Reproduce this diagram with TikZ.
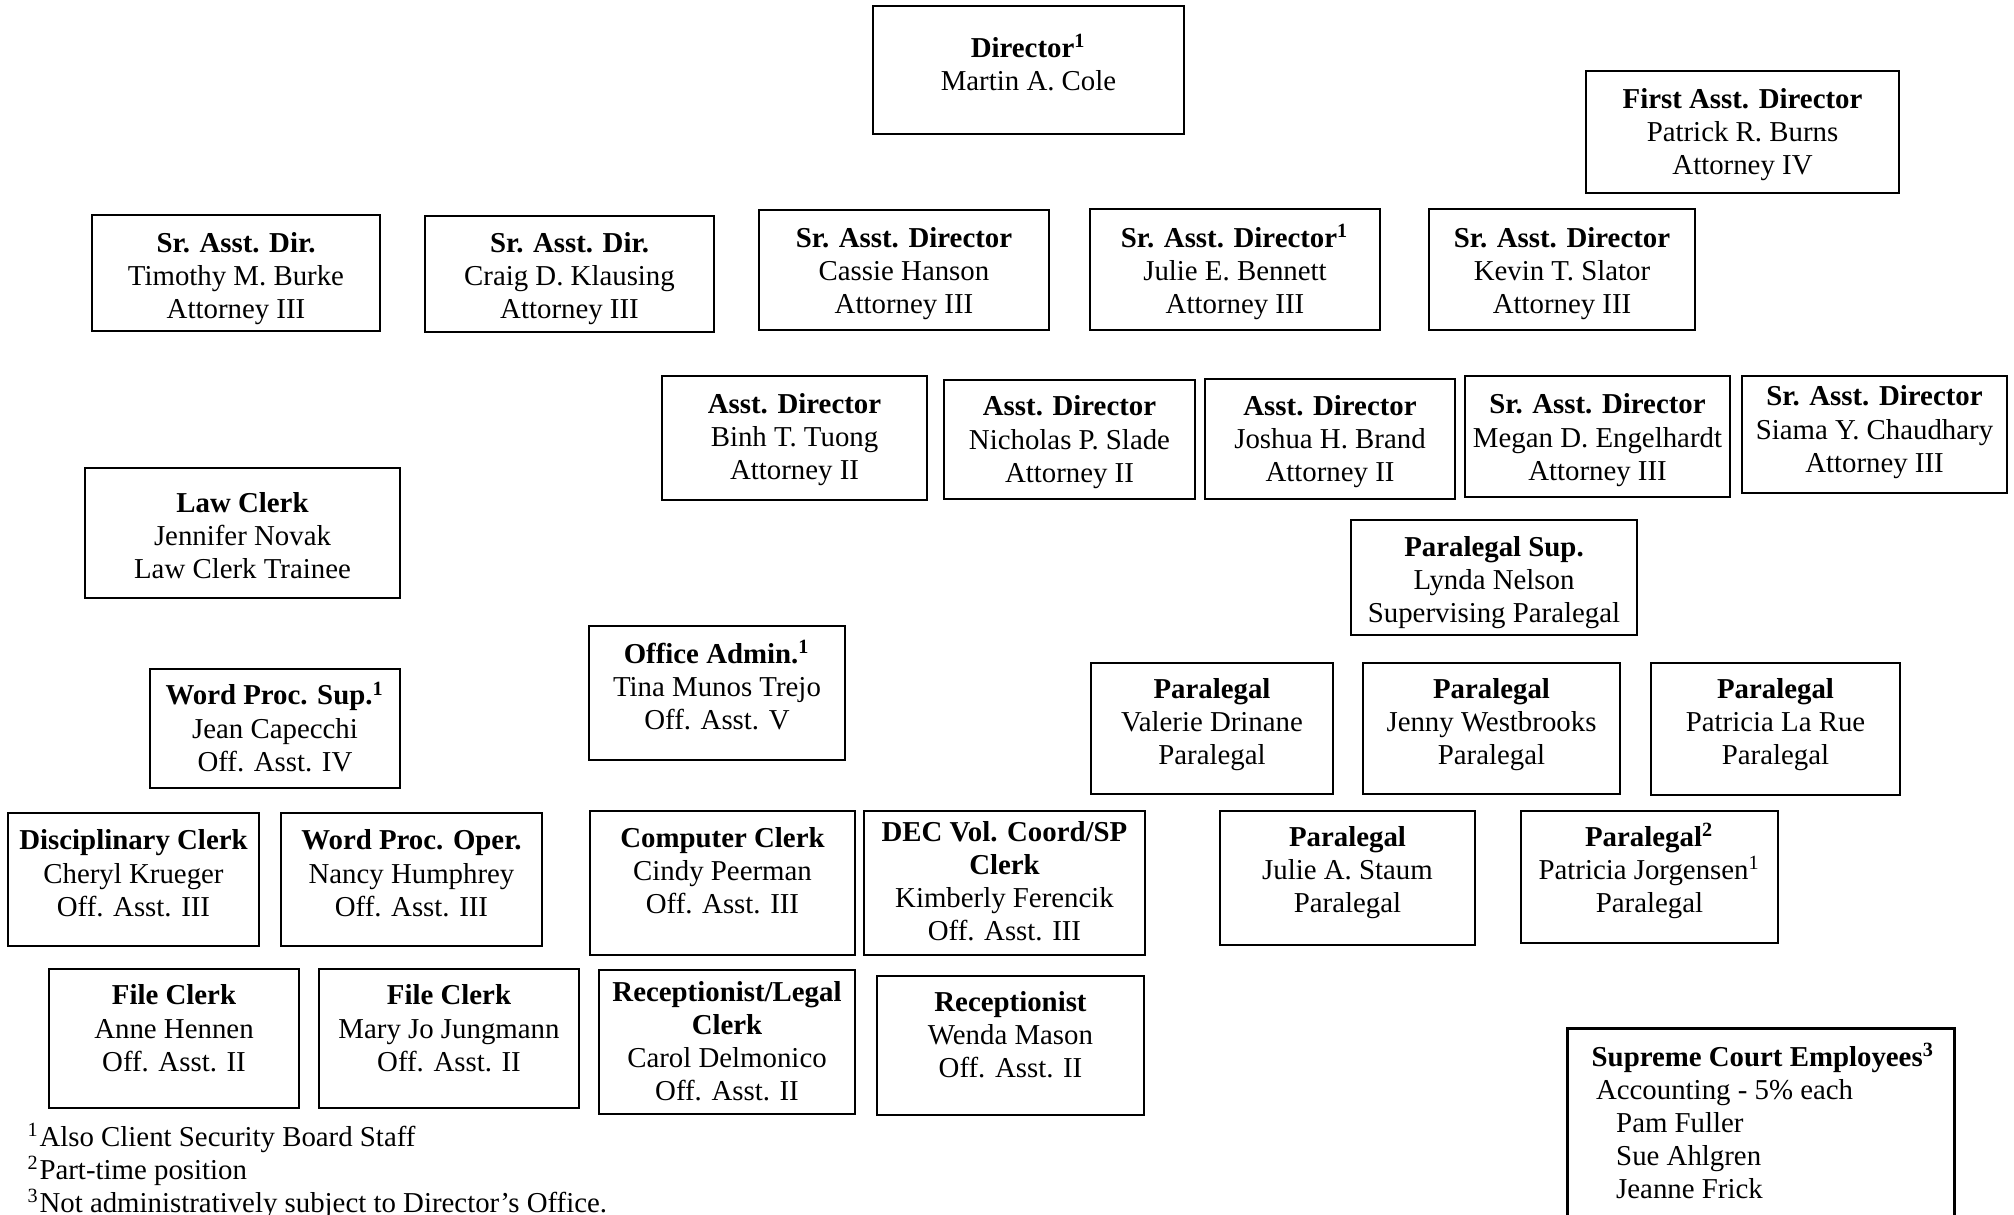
\documentclass[tikz,border=0pt]{standalone}
\usepackage{fontspec}
\setmainfont{Liberation Serif}
\begin{document}
\begin{tikzpicture}[x=0.01cm, y=-0.01cm, font=\fontsize{8.2}{9.4}\selectfont,
box/.style={draw, line width=0.8pt, align=center, inner sep=0pt},
wh/.style 2 args={minimum width=#1*0.01cm, minimum height=#2*0.01cm},
tb/.code 2 args={\pgfmathsetmacro\tbu{(#1-(#2-1)*33.04)/3.515}%
  \pgfmathsetmacro\tbh{15-\tbu}\pgfmathsetmacro\tbd{15+\tbu}%
  \tikzset{text height=\tbh pt, text depth=\tbd pt}}]
\useasboundingbox (0,0) rectangle (2014,1215);
\node[box, wh={311}{128}, tb={12.7}{2}] (director) at (1028.5,70) {\textbf{Director\textsuperscript{1}}\\Martin A. Cole};
\node[box, wh={313}{122}, tb={23.7}{3}] (first) at (1742.5,132) {\textbf{First Asst. Director}\\Patrick R. Burns\\Attorney IV};
\node[box, wh={288}{116}, tb={20.3}{3}] (burke) at (236,273) {\textbf{Sr. Asst. Dir.}\\Timothy M. Burke\\Attorney III};
\node[box, wh={289}{116}, tb={21.3}{3}] (klausing) at (569.5,274) {\textbf{Sr. Asst. Dir.}\\Craig D. Klausing\\Attorney III};
\node[box, wh={290}{120}, tb={22.7}{3}] (hanson) at (904,270) {\textbf{Sr. Asst. Director}\\Cassie Hanson\\Attorney III};
\node[box, wh={290}{121}, tb={22.2}{3}] (bennett) at (1235,269.5) {\textbf{Sr. Asst. Director\textsuperscript{1}}\\Julie E. Bennett\\Attorney III};
\node[box, wh={266}{121}, tb={22.2}{3}] (slator) at (1562,269.5) {\textbf{Sr. Asst. Director}\\Kevin T. Slator\\Attorney III};
\node[box, wh={265}{124}, tb={24.7}{3}] (tuong) at (794.5,438) {\textbf{Asst. Director}\\Binh T. Tuong\\Attorney II};
\node[box, wh={251}{119}, tb={23.5}{3}] (slade) at (1069.5,439.5) {\textbf{Asst. Director}\\Nicholas P. Slade\\Attorney II};
\node[box, wh={250}{120}, tb={23.3}{3}] (brand) at (1330,439) {\textbf{Asst. Director}\\Joshua H. Brand\\Attorney II};
\node[box, wh={265}{121}, tb={22.5}{3}] (engelhardt) at (1597.5,436.5) {\textbf{Sr. Asst. Director}\\Megan D. Engelhardt\\Attorney III};
\node[box, wh={265}{117}, tb={28.5}{3}] (chaudhary) at (1874.5,434.5) {\textbf{Sr. Asst. Director}\\Siama Y. Chaudhary\\Attorney III};
\node[box, wh={315}{130}, tb={20.3}{3}] (lawclerk) at (242.5,533) {\textbf{Law Clerk}\\Jennifer Novak\\Law Clerk Trainee};
\node[box, wh={286}{115}, tb={20.8}{3}] (parasup) at (1494,577.5) {\textbf{Paralegal Sup.}\\Lynda Nelson\\Supervising Paralegal};
\node[box, wh={250}{119}, tb={23.5}{3}] (wordsup) at (275,728.5) {\textbf{Word Proc. Sup.\textsuperscript{1}}\\Jean Capecchi\\Off. Asst. IV};
\node[box, wh={256}{134}, tb={29.7}{3}] (offadmin) at (717,693) {\textbf{Office Admin.\textsuperscript{1}}\\Tina Munos Trejo\\Off. Asst. V};
\node[box, wh={242}{131}, tb={30.2}{3}] (drinane) at (1212,728.5) {\textbf{Paralegal}\\Valerie Drinane\\Paralegal};
\node[box, wh={257}{131}, tb={30.2}{3}] (westbrooks) at (1491.5,728.5) {\textbf{Paralegal}\\Jenny Westbrooks\\Paralegal};
\node[box, wh={249}{132}, tb={30.7}{3}] (larue) at (1775.5,729) {\textbf{Paralegal}\\Patricia La Rue\\Paralegal};
\node[box, wh={251}{133}, tb={29.5}{3}] (krueger) at (133.5,879.5) {\textbf{Disciplinary Clerk}\\Cheryl Krueger\\Off. Asst. III};
\node[box, wh={261}{133}, tb={29.5}{3}] (humphrey) at (411.5,879.5) {\textbf{Word Proc. Oper.}\\Nancy Humphrey\\Off. Asst. III};
\node[box, wh={265}{144}, tb={35.3}{3}] (peerman) at (722.5,883) {\textbf{Computer Clerk}\\Cindy Peerman\\Off. Asst. III};
\node[box, wh={281}{144}, tb={36.3}{4}] (ferencik) at (1004.5,883) {\textbf{DEC Vol. Coord/SP}\\\textbf{Clerk}\\Kimberly Ferencik\\Off. Asst. III};
\node[box, wh={255}{134}, tb={31.3}{3}] (staum) at (1347.5,878) {\textbf{Paralegal}\\Julie A. Staum\\Paralegal};
\node[box, wh={257}{132}, tb={30.3}{3}] (jorgensen) at (1649.5,877) {\textbf{Paralegal\textsuperscript{2}}\\Patricia Jorgensen\textsuperscript{1}\\Paralegal};
\node[box, wh={250}{139}, tb={33.5}{3}] (hennen) at (174,1038.5) {\textbf{File Clerk}\\Anne Hennen\\Off. Asst. II};
\node[box, wh={260}{139}, tb={33.5}{3}] (jungmann) at (449,1038.5) {\textbf{File Clerk}\\Mary Jo Jungmann\\Off. Asst. II};
\node[box, wh={256}{144}, tb={35.3}{4}] (delmonico) at (727,1042) {\textbf{Receptionist/Legal}\\\textbf{Clerk}\\Carol Delmonico\\Off. Asst. II};
\node[box, wh={267}{139}, tb={33.8}{3}] (mason) at (1010.5,1045.5) {\textbf{Receptionist}\\Wenda Mason\\Off. Asst. II};
\node[box, wh={387}{240}, anchor=north west] (supreme) at (1566,1027) {};
\node[anchor=north west, align=left, inner sep=0pt] (supremetxt) at (1591,1042) {\textbf{Supreme Court Employees\textsuperscript{3}}\\\hspace*{0.15em}Accounting - 5\% each\\\hspace*{0.85em}Pam Fuller\\\hspace*{0.85em}Sue Ahlgren\\\hspace*{0.85em}Jeanne Frick};
\node[anchor=west, align=left, inner sep=0pt] (notes) at (27,1171) {\textsuperscript{1}Also Client Security Board Staff\\\textsuperscript{2}Part-time position\\\textsuperscript{3}Not administratively subject to Director’s Office.};
\end{tikzpicture}
\end{document}
